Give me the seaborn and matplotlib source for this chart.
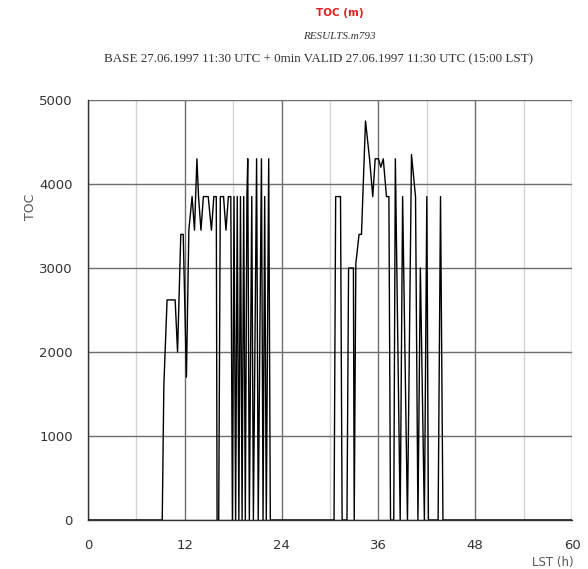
import matplotlib
matplotlib.use("Agg")
import matplotlib.pyplot as plt
import seaborn as sns
import pandas as pd
from matplotlib.ticker import MultipleLocator

hours = [0, 9.2, 9.4, 9.8, 10.8, 11.1, 11.5, 11.8, 12.2, 12.5, 12.9, 13.2, 13.5, 13.7,
         14.0, 14.3, 14.9, 15.3, 15.6, 15.9, 16.0, 16.2, 16.4, 16.8, 17.1, 17.4, 17.7,
         17.9, 18.1, 18.3, 18.5, 18.7, 18.9, 19.1, 19.3, 19.5, 19.7, 19.8, 20.0, 20.3,
         20.5, 20.9, 21.1, 21.5, 21.7, 21.9, 22.1, 22.4, 22.6,
         30.5, 30.7, 31.3, 31.5, 32.1, 32.3, 32.9, 33.0, 33.2, 33.6, 33.9, 34.4, 34.9,
         35.3, 35.6, 36.0, 36.3, 36.6, 37.0, 37.3, 37.5, 37.9, 38.1, 38.7, 39.0, 39.6,
         40.1, 40.6, 40.9, 41.2, 41.7, 42.0, 42.2, 43.4, 43.7, 44.0, 60]
toc = [0, 0, 1600, 2620, 2620, 2000, 3400, 3400, 1700, 3450, 3850, 3450, 4300, 3850,
       3450, 3850, 3850, 3450, 3850, 3850, 0, 0, 3850, 3850, 3450, 3850, 3850,
       0, 3850, 0, 3850, 0, 3850, 0, 3850, 0, 3850, 4300, 0, 3850,
       0, 4300, 0, 4300, 0, 3850, 0, 4300, 0,
       0, 3850, 3850, 0, 0, 3000, 3000, 0, 3050, 3400, 3400, 4750, 4300,
       3850, 4300, 4300, 4200, 4300, 3850, 3850, 0, 0, 4300, 0, 3850, 0,
       4350, 3850, 0, 3000, 0, 3850, 0, 0, 3850, 0, 0]

df = pd.DataFrame({"LST": hours, "TOC": toc})

sns.set_style("white")
fig = plt.figure(figsize=(5.88, 5.69), dpi=100)
ax = fig.add_axes([0.1497, 0.0861, 0.8231, 0.7382])

sns.lineplot(data=df, x="LST", y="TOC", ax=ax, color="black", linewidth=1.0,
             estimator=None, sort=False, zorder=3)

ax.set_xlim(0, 60)
ax.set_ylim(0, 5000)
ax.xaxis.set_major_locator(MultipleLocator(12))
ax.xaxis.set_minor_locator(MultipleLocator(6))
ax.yaxis.set_major_locator(MultipleLocator(1000))

ax.grid(which="major", color="#6e6e6e", linewidth=1.0)
ax.grid(which="minor", axis="x", color="#d4d4d4", linewidth=1.0)
for s in ["top", "right"]:
    ax.spines[s].set_visible(False)
for s in ["left", "bottom"]:
    ax.spines[s].set_color("#333333")
    ax.spines[s].set_linewidth(1.0)

ax.tick_params(which="major", length=8, color="#6e6e6e", width=1.0,
               labelsize=9.5, labelcolor="#333333", pad=3)
ax.tick_params(which="minor", axis="x", length=8, color="#d4d4d4", width=1.0)
ax.tick_params(axis="x", which="major", pad=6)

ax.set_xlabel("")
ax.set_ylabel("TOC", fontsize=9, color="#555555")
ax.yaxis.set_label_coords(-0.105, 0.745)
fig.text(0.94, 0.0, "LST (h)", fontsize=8.5, color="#555555", ha="center", va="bottom")

fig.text(0.578, 0.977, "TOC (m)", color="#e02020", fontsize=7.5, fontweight="bold",
         ha="center", va="center")
fig.text(0.578, 0.935, "RESULTS.m793", color="#333333", fontsize=8, style="italic",
         family="Liberation Serif", ha="center", va="center")
fig.text(0.541, 0.895,
         "BASE 27.06.1997 11:30 UTC + 0min VALID 27.06.1997 11:30 UTC (15:00 LST)",
         color="#333333", fontsize=9.4, family="Liberation Serif", ha="center", va="center")

fig.savefig("out.png", dpi=100)
